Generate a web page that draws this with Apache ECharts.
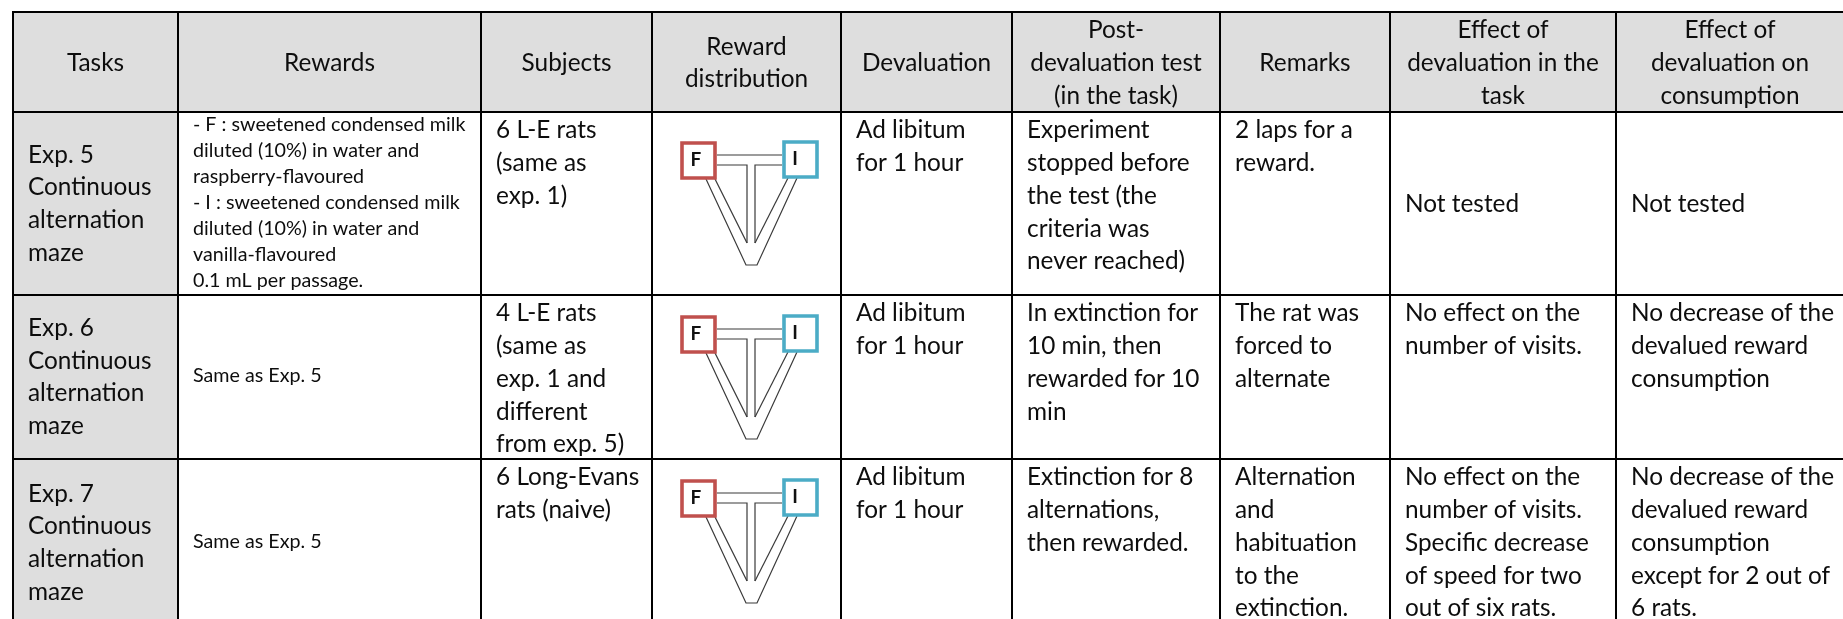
<!DOCTYPE html>
<html>
<head>
<meta charset="utf-8">
<title>Tasks table</title>
<style>
html, body { margin: 0; padding: 0; background: #fff; }
#main { width: 1843px; height: 619px; }
</style>
<script src="https://cdn.jsdelivr.net/npm/echarts@6/dist/echarts.min.js"></script>
</head>
<body>
<div id="main"></div>
<script>
// table content, one list per column
var headers = ['Tasks', 'Rewards', 'Subjects', 'Reward\ndistribution', 'Devaluation', 'Post-\ndevaluation test\n(in the task)', 'Remarks', 'Effect of\ndevaluation in the\ntask', 'Effect of\ndevaluation on\nconsumption'];
var tasks = ['Exp. 5\nContinuous\nalternation\nmaze', 'Exp. 6\nContinuous\nalternation\nmaze', 'Exp. 7\nContinuous\nalternation\nmaze'];
var rewards = ['- F : sweetened condensed milk\ndiluted (10%) in water and\nraspberry-flavoured\n- I : sweetened condensed milk\ndiluted (10%) in water and\nvanilla-flavoured\n0.1 mL per passage.', 'Same as Exp. 5', 'Same as Exp. 5'];
var subjects = ['6 L-E rats\n(same as\nexp. 1)', '4 L-E rats\n(same as\nexp. 1 and\ndifferent\nfrom exp. 5)', '6 Long-Evans\nrats (naive)'];
var distribution = ['', '', ''];
var devaluation = ['Ad libitum\nfor 1 hour', 'Ad libitum\nfor 1 hour', 'Ad libitum\nfor 1 hour'];
var postTest = ['Experiment\nstopped before\nthe test (the\ncriteria was\nnever reached)', 'In extinction for\n10 min, then\nrewarded for 10\nmin', 'Extinction for 8\nalternations,\nthen rewarded.'];
var remarks = ['2 laps for a\nreward.', 'The rat was\nforced to\nalternate', 'Alternation\nand\nhabituation\nto the\nextinction.'];
var effectTask = ['Not tested', 'No effect on the\nnumber of visits.', 'No effect on the\nnumber of visits.\nSpecific decrease\nof speed for two\nout of six rats.'];
var effectConsumption = ['Not tested', 'No decrease of the\ndevalued reward\nconsumption', 'No decrease of the\ndevalued reward\nconsumption\nexcept for 2 out of\n6 rats.'];
var bodyColumns = [tasks, rewards, subjects, distribution, devaluation, postTest, remarks, effectTask, effectConsumption];

// sheet geometry, in axis units
var colEdges = [13, 178, 481, 652, 841, 1012, 1220, 1390, 1616, 1860];
var rowEdges = [12, 112, 295, 459, 640];
var mazeTops = [140, 314, 478];
var PAD = 15, LINE = 32.7, SMALL_LINE = 26;
var FONT = 'Lato';

var cellData = [];
headers.forEach(function (t, c) { cellData.push([c, 0, t]); });
bodyColumns.forEach(function (col, c) {
    col.forEach(function (t, r) { if (t) cellData.push([c, r + 1, t]); });
});

function textCell(params, api) {
    var c = api.value(0), r = api.value(1), text = cellData[params.dataIndex][2];
    var x0 = colEdges[c], x1 = colEdges[c + 1], y0 = rowEdges[r], y1 = rowEdges[r + 1];
    var small = c === 1 && r > 0;
    var center = r === 0;
    // only tasks, rewards and the "Not tested" cells sit mid height
    var middle = r === 0 || c <= 1 || text === 'Not tested';
    if (r === 3 && c <= 1) { y1 = 626; }
    var ax = center ? (x0 + x1) / 2 : x0 + PAD;
    if (center && c === 8) { ax = 1730; }
    var ay = middle ? (y0 + y1) / 2 + (r === 0 ? 1 : 0) - (small ? 1 : 0) : y0 + 2;
    var p = api.coord([ax, ay]);
    return {
        type: 'text',
        x: p[0], y: p[1], scaleX: small ? 0.985 : 0.975,
        style: {
            text: text,
            fill: '#0d0d0d',
            font: (small ? 20 : 25) + 'px ' + FONT,
            lineHeight: small ? SMALL_LINE : LINE,
            align: center ? 'center' : 'left',
            verticalAlign: middle ? 'middle' : 'top'
        }
    };
}

function fillCell(params, api) {
    var c = api.value(0), r = api.value(1);
    var a = api.coord([colEdges[c], rowEdges[r]]);
    var b = api.coord([colEdges[c + 1], rowEdges[r + 1]]);
    return {
        type: 'rect',
        shape: { x: a[0], y: a[1], width: b[0] - a[0], height: b[1] - a[1] },
        style: { fill: (r === 0 || c === 0) ? '#dedede' : '#fff' }
    };
}

var fillData = [];
rowEdges.slice(1).forEach(function (e, r) {
    colEdges.slice(1).forEach(function (e2, c) { fillData.push([c, r]); });
});

function rules(params, api) {
    var kids = [];
    var bottom = api.coord([0, 619])[1];
    colEdges.slice(0, 9).forEach(function (x) {
        var a = api.coord([x, 12]);
        kids.push({ type: 'line', shape: { x1: a[0], y1: a[1] - 1, x2: a[0], y2: bottom }, style: { stroke: '#000', lineWidth: 2 } });
    });
    rowEdges.slice(0, 4).forEach(function (y) {
        var a = api.coord([12, y]), b = api.coord([1843, y]);
        kids.push({ type: 'line', shape: { x1: a[0], y1: a[1], x2: b[0], y2: a[1] }, style: { stroke: '#000', lineWidth: 2 } });
    });
    return { type: 'group', children: kids };
}

// maze wireframe relative to the top of the blue box
var mazeWalls = [
    [[717, 15], [782, 15]],
    [[717, 25], [747, 25], [747, 103]],
    [[755, 103], [755, 25], [782, 25]],
    [[715, 39], [747, 103]],
    [[706, 39], [746, 125], [757, 125], [797, 38]],
    [[788, 38], [755, 103]]
];

function maze(params, api) {
    var top = mazeTops[api.value(0)];
    var kids = mazeWalls.map(function (pts) {
        return {
            type: 'polyline',
            shape: { points: pts.map(function (p) { return api.coord([p[0], top + p[1]]); }) },
            style: { stroke: '#3a3a3a', lineWidth: 1.2, fill: null }
        };
    });
    var boxes = [
        { x: 682, y: 3, color: '#c0504d', label: 'F', lx: 696, ly: 20 },
        { x: 784, y: 2, color: '#4bacc6', label: 'I', lx: 795, ly: 19 }
    ];
    boxes.forEach(function (b) {
        var a = api.coord([b.x, top + b.y]), e = api.coord([b.x + 33, top + b.y + 35]);
        kids.push({
            type: 'rect',
            shape: { x: a[0], y: a[1], width: e[0] - a[0], height: e[1] - a[1] },
            style: { stroke: b.color, lineWidth: 3.6, fill: '#fff' }
        });
        var l = api.coord([b.lx, top + b.ly]);
        kids.push({
            type: 'text', x: l[0], y: l[1],
            style: { text: b.label, fill: '#111', font: 'bold 19px ' + FONT, align: 'center', verticalAlign: 'middle' }
        });
    });
    return { type: 'group', children: kids };
}

var myChart = echarts.init(document.getElementById('main'));
myChart.setOption({
    animation: false,
    backgroundColor: '#fff',
    grid: { left: 0, right: 0, top: 0, bottom: 0 },
    xAxis: { type: 'value', min: 0, max: 1843, show: false },
    yAxis: { type: 'value', min: 0, max: 619, inverse: true, show: false },
    series: [
        { type: 'custom', silent: true, clip: true, renderItem: fillCell, data: fillData, encode: { x: 0, y: 1 } },
        { type: 'custom', silent: true, clip: true, renderItem: rules, data: [[0, 0]], encode: { x: 0, y: 1 }, z: 3 },
        { type: 'custom', silent: true, clip: true, renderItem: maze, data: [[0], [1], [2]], z: 4 },
        { type: 'custom', silent: true, clip: true, renderItem: textCell, data: cellData, encode: { x: 0, y: 1 }, z: 5 }
    ]
});
</script>
</body>
</html>
